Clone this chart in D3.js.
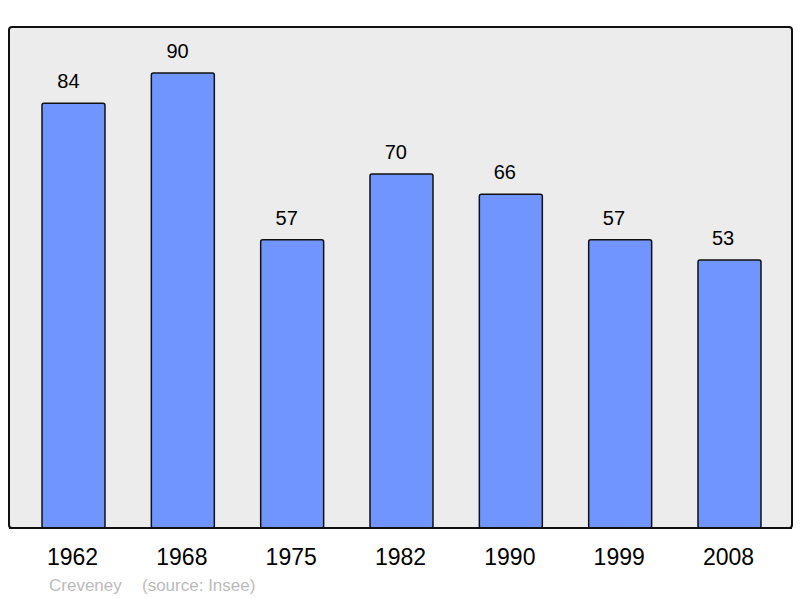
<!DOCTYPE html>
<html><head><meta charset="utf-8">
<script src="https://cdn.jsdelivr.net/npm/d3@7"></script>
<style>body{margin:0;background:#fff}</style>
</head><body>
<script>
const years = ["1962","1968","1975","1982","1990","1999","2008"];
const population = [84, 90, 57, 70, 66, 57, 53];
const commune = "Creveney";
const source = "(source: Insee)";

const W = 800, H = 598;
const svg = d3.select("body").append("svg").attr("width", W).attr("height", H)
  .style("font-family", "'Liberation Sans', Arial, sans-serif");

const frame = {x0: 9, y0: 27, x1: 792, y1: 528};
svg.append("rect").attr("x", frame.x0).attr("y", frame.y0)
  .attr("width", frame.x1 - frame.x0).attr("height", frame.y1 - frame.y0)
  .attr("rx", 3).attr("fill", "#ececec").attr("stroke", "#111").attr("stroke-width", 2);

const x = d3.scaleBand().domain(years).range([18.83, 784.17]).paddingInner(0.424).paddingOuter(0.212);
const y = d3.scaleLinear().domain([0, 90]).range([528, 73]);

svg.selectAll("rect.bar").data(years).join("rect").attr("class", "bar")
  .attr("x", d => x(d)).attr("width", x.bandwidth())
  .attr("y", (d, i) => y(population[i])).attr("height", (d, i) => y(0) - y(population[i]))
  .attr("rx", 2).attr("fill", "#7095ff").attr("stroke", "#111").attr("stroke-width", 1.5);

svg.selectAll("text.val").data(years).join("text").attr("class", "val")
  .attr("x", (d, i) => x(d) + x.bandwidth() / 2 - 5 - 0.25 * i)
  .attr("y", (d, i) => y(population[i]) - 15)
  .attr("text-anchor", "middle").attr("font-size", 20).attr("fill", "#000")
  .text((d, i) => population[i]);

// redraw frame bottom line over bars
svg.append("line").attr("x1", frame.x0).attr("x2", frame.x1).attr("y1", frame.y1).attr("y2", frame.y1)
  .attr("stroke", "#111").attr("stroke-width", 2);

const axis = d3.axisBottom(x).tickSize(0).tickPadding(0);
const g = svg.append("g").attr("transform", `translate(-1,${frame.y1})`).call(axis);
g.select(".domain").remove();
g.selectAll("text").attr("font-size", 23).attr("fill", "#000")
  .attr("font-family", "'Liberation Sans', Arial, sans-serif")
  .attr("dy", null).attr("y", 37);

svg.append("text").attr("x", 49).attr("y", 591).attr("font-size", 17).attr("fill", "#bbb").text(commune);
svg.append("text").attr("x", 142).attr("y", 591).attr("font-size", 17).attr("fill", "#bbb").text(source);
</script>
</body></html>
